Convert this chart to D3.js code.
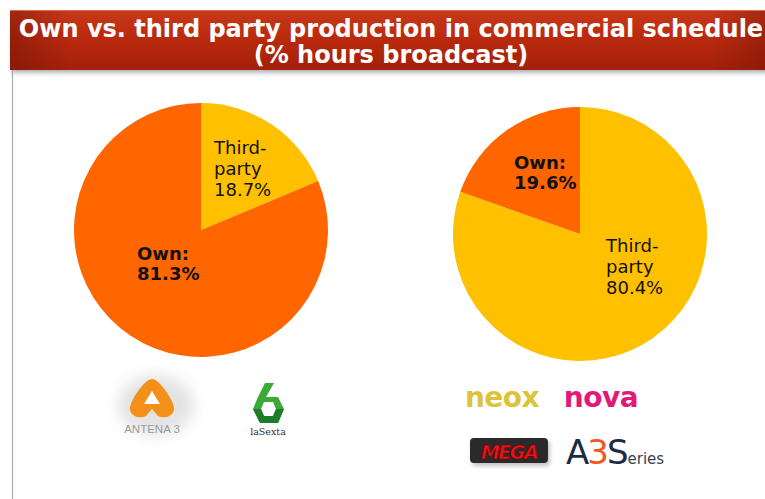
<!DOCTYPE html>
<html><head><meta charset="utf-8">
<script src="https://cdn.jsdelivr.net/npm/d3@7"></script>
<style>html,body{margin:0;padding:0;background:#fff;overflow:hidden}</style>
</head><body>
<svg id="c" width="765" height="499"></svg>
<script>
// ---- data ----
const titleLines = ["Own vs. third party production in commercial schedule", "(% hours broadcast)"];
const categories = ["Third-party", "Own"];
const leftValues = [18.7, 81.3];
const rightValues = [80.4, 19.6];
const colors = ["#FFC000", "#FF6600"];
const leftLogos = ["ANTENA 3", "laSexta"];
const rightLogos = ["neox", "nova", "MEGA", "A3S", "Series"];

const svg = d3.select("#c");
const defs = svg.append("defs");

// header gradient
const g1 = defs.append("linearGradient").attr("id","hdr").attr("x1",0).attr("y1",0).attr("x2",0).attr("y2",1);
g1.append("stop").attr("offset","0%").attr("stop-color","#c8391b");
g1.append("stop").attr("offset","45%").attr("stop-color","#bb2a0e");
g1.append("stop").attr("offset","100%").attr("stop-color","#a3200a");
const g2 = defs.append("linearGradient").attr("id","hdrh").attr("x1",0).attr("y1",0).attr("x2",1).attr("y2",0);
g2.append("stop").attr("offset","0%").attr("stop-color","#6a1005").attr("stop-opacity",0.45);
g2.append("stop").attr("offset","8%").attr("stop-color","#6a1005").attr("stop-opacity",0);
g2.append("stop").attr("offset","92%").attr("stop-color","#6a1005").attr("stop-opacity",0);
g2.append("stop").attr("offset","100%").attr("stop-color","#6a1005").attr("stop-opacity",0.4);
const sh = defs.append("filter").attr("id","blur").attr("x","-20%").attr("y","-20%").attr("width","140%").attr("height","140%");
sh.append("feGaussianBlur").attr("stdDeviation",2);
const sh2 = defs.append("filter").attr("id","blur6").attr("x","-50%").attr("y","-50%").attr("width","200%").attr("height","200%");
sh2.append("feGaussianBlur").attr("stdDeviation",7);
const pb = defs.append("filter").attr("id","soft");
pb.append("feGaussianBlur").attr("stdDeviation",0.6);

// left frame line
svg.append("line").attr("x1",12.5).attr("x2",12.5).attr("y1",70).attr("y2",499)
  .attr("stroke","#b0b0b0").attr("stroke-width",1.3);

// header shadow + banner
svg.append("rect").attr("x",12).attr("y",13).attr("width",760).attr("height",60)
  .attr("fill","#777").attr("opacity",0.55).attr("filter","url(#blur)");
svg.append("rect").attr("x",10).attr("y",10).attr("width",760).attr("height",60).attr("fill","url(#hdr)");
svg.append("rect").attr("x",10).attr("y",10).attr("width",760).attr("height",60).attr("fill","url(#hdrh)");
svg.append("line").attr("x1",10).attr("x2",770).attr("y1",10.5).attr("y2",10.5).attr("stroke","#d9704f").attr("stroke-width",1);

const tcx = 391;
svg.selectAll("text.title").data(titleLines).enter().append("text")
  .attr("class","title")
  .attr("x", tcx).attr("y",(d,i)=>37+i*25.5)
  .attr("text-anchor","middle")
  .attr("font-family","'DejaVu Sans', Verdana, sans-serif")
  .attr("font-weight","bold").attr("font-size",24).attr("fill","#fff")
  .text(d=>d);

// pies
const pie = d3.pie().sort(null).value(d=>d);
function drawPie(cx, cy, r, values, labels) {
  const g = svg.append("g").attr("transform",`translate(${cx},${cy})`);
  const arc = d3.arc().innerRadius(0).outerRadius(r);
  g.selectAll("path").data(pie(values)).enter().append("path")
    .attr("d", arc).attr("fill",(d,i)=>colors[i]).attr("filter","url(#soft)");
  labels.forEach(l => {
    const t = g.append("text").attr("x",l.dx).attr("y",l.dy)
      .attr("font-family","'DejaVu Sans', Verdana, sans-serif")
      .attr("font-size",18).attr("font-weight",l.bold?"bold":"normal").attr("fill","#111");
    l.lines.forEach((s,i)=>t.append("tspan").attr("x",l.dx).attr("dy", i===0?0:l.lh).text(s));
  });
}
drawPie(201, 230, 127, leftValues, [
  {dx: 13, dy: -76, lh: 21, bold:false, lines:["Third-","party", leftValues[0].toFixed(1)+"%"]},
  {dx: -64, dy: 30, lh: 19.5, bold:true, lines:["Own:", leftValues[1].toFixed(1)+"%"]}
]);
drawPie(580, 234, 127, rightValues, [
  {dx: -66, dy: -65, lh: 19.5, bold:true, lines:["Own:", rightValues[1].toFixed(1)+"%"]},
  {dx: 26, dy: 18, lh: 21, bold:false, lines:["Third-","party", rightValues[0].toFixed(1)+"%"]}
]);

// ---- logos (approximate) ----
// ANTENA 3
svg.append("ellipse").attr("cx",156).attr("cy",405).attr("rx",38).attr("ry",30)
  .attr("fill","#ccc").attr("opacity",0.55).attr("filter","url(#blur6)");
const a3 = svg.append("g").attr("transform","translate(152,400)");
a3.append("path").attr("d","M0,-21 C8,-21 24,4 22,10 C20,17 12,19 6,16 L0,9 L-6,16 C-12,19 -20,17 -22,10 C-24,4 -8,-21 0,-21 Z")
  .attr("fill","#f39019");
a3.append("path").attr("d","M0,-9 L8,4 L-8,4 Z").attr("fill","#fff");
svg.append("text").attr("x",152).attr("y",433).attr("text-anchor","middle")
  .attr("font-family","'Liberation Sans', Arial, sans-serif").attr("font-size",11.5).attr("fill","#9a9a9a")
  .text(leftLogos[0]);
// laSexta
const ls = svg.append("g").attr("transform","translate(268,405)");
ls.append("path").attr("d","M-3,-22 L6,-22 L-2,-8 L10,-8 L16,4 L10,18 L-8,18 L-15,4 L-10,-8 Z").attr("fill","#3aa935");
ls.append("path").attr("d","M-4,-3 L5,-3 L8,4 L5,11 L-4,11 L-7,4 Z").attr("fill","#fff");
ls.append("path").attr("d","M-15,4 L-8,18 L10,18 L16,4 L8,4 L5,11 L-4,11 L-7,4 Z").attr("fill","#1e7d2a");
svg.append("text").attr("x",268).attr("y",435).attr("text-anchor","middle")
  .attr("font-family","'DejaVu Serif', serif").attr("font-size",9.5).attr("fill","#333")
  .text(leftLogos[1]);

// neox & nova
svg.append("text").attr("x",502).attr("y",407).attr("text-anchor","middle")
  .attr("font-family","'DejaVu Sans', sans-serif").attr("font-weight","bold").attr("font-size",28)
  .attr("fill","#dcc43a").attr("letter-spacing",-0.5).text(rightLogos[0]);
svg.append("text").attr("x",601).attr("y",407).attr("text-anchor","middle")
  .attr("font-family","'DejaVu Sans', sans-serif").attr("font-weight","bold").attr("font-size",28)
  .attr("fill","#e11a78").attr("letter-spacing",-0.5).text(rightLogos[1]);
// MEGA
svg.append("rect").attr("x",472).attr("y",441).attr("width",78).attr("height",25).attr("rx",4)
  .attr("fill","#999").attr("opacity",0.6).attr("filter","url(#blur)");
svg.append("rect").attr("x",470).attr("y",438).attr("width",78).attr("height",25).attr("rx",4)
  .attr("fill","#2a2a2a");
svg.append("text").attr("x",509).attr("y",458.5).attr("text-anchor","middle")
  .attr("font-family","'DejaVu Sans', sans-serif").attr("font-weight","bold").attr("font-style","italic")
  .attr("font-size",19).attr("fill","#e5141b").attr("stroke","#600").attr("stroke-width",0.6)
  .attr("letter-spacing",-1.5).text(rightLogos[2]);
// A3Series (single text element)
const a3s = svg.append("text").attr("x",566).attr("y",464)
  .attr("font-family","'DejaVu Sans', sans-serif").attr("fill","#1c2a45");
a3s.append("tspan").attr("font-size",34).attr("letter-spacing",-2).text(rightLogos[3][0]);
a3s.append("tspan").attr("font-size",34).attr("letter-spacing",-2).attr("fill","#f0581f").text(rightLogos[3][1]);
a3s.append("tspan").attr("font-size",34).attr("letter-spacing",-1).text(rightLogos[3][2]);
a3s.append("tspan").attr("font-size",15).attr("fill","#3a4152").text(rightLogos[4].slice(1));
</script>
</body></html>
